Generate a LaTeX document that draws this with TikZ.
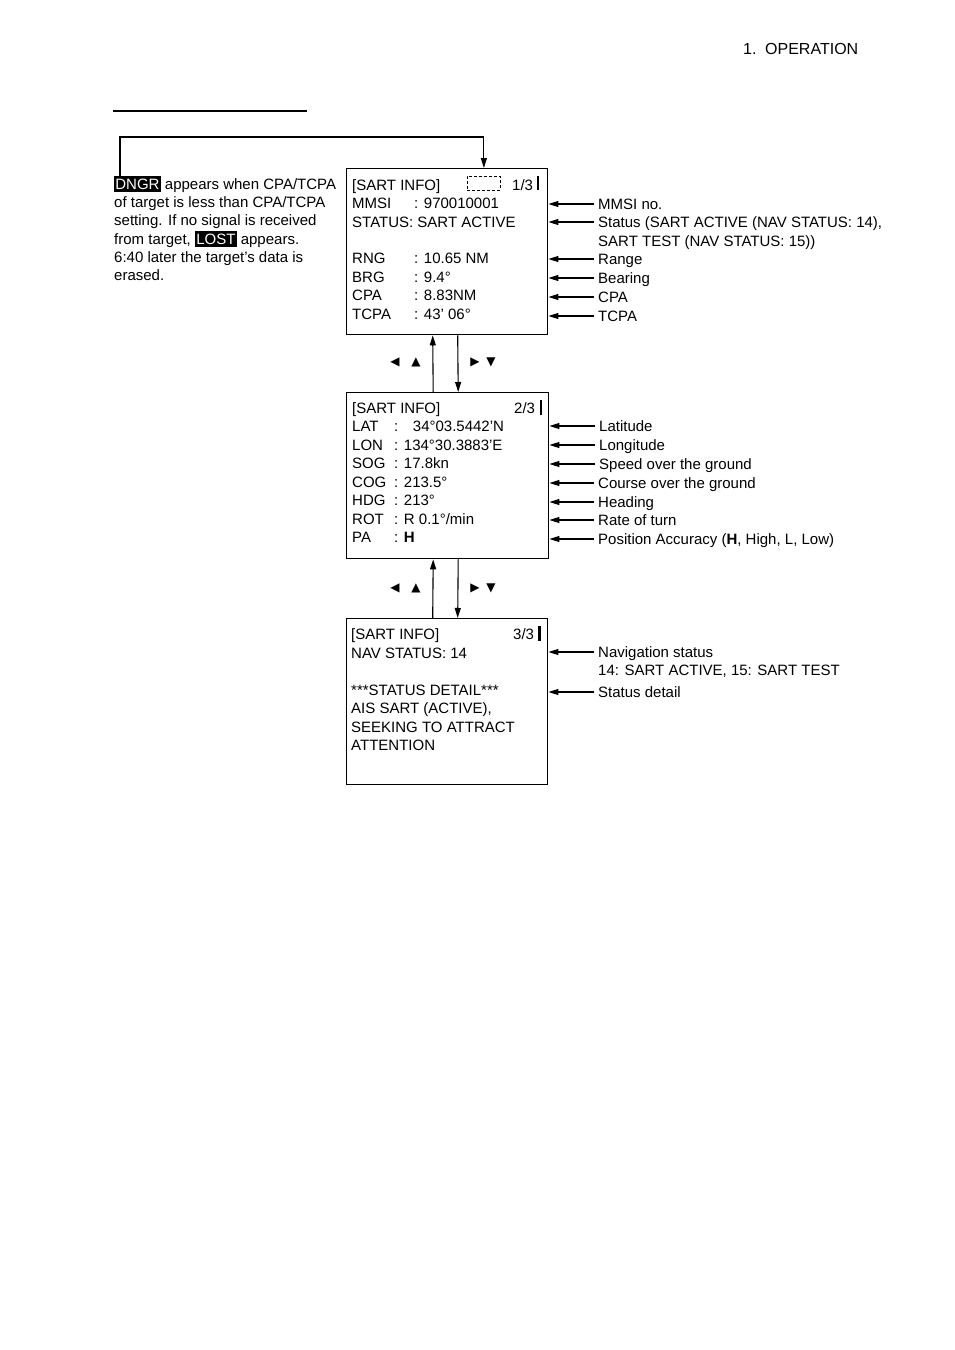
\documentclass[tikz,border=0pt]{standalone}
\usepackage{fontspec}
\setmainfont{Liberation Sans}
\newfontfamily\symfont{DejaVu Sans}
\usetikzlibrary{arrows.meta}
\newcommand\myfs{\fontsize{15pt}{18pt}\selectfont}
\newcommand\inv[1]{{\setlength\fboxsep{1.2pt}\colorbox{black}{\color{white}\rule[-1.5pt]{0pt}{13.6pt}#1}}}
\newcommand\lb[2]{\makebox[#1][l]{#2}}
\begin{document}
\begin{tikzpicture}[x=1pt,y=-1pt,
  scr/.style={draw, line width=1.4pt, anchor=north west, inner sep=0pt},
  tx/.style={anchor=west, inner sep=0pt, font=\myfs, text height=10.7pt, text depth=0pt},
  lab/.style={anchor=west, inner xsep=4pt, inner ysep=0pt, font=\myfs, text height=10.7pt, text depth=0pt},
  arr/.style={line width=1.1pt, -{Triangle[length=10pt,width=6pt]}},
  sym/.style={inner sep=0pt, font=\symfont\fontsize{12pt}{12pt}\selectfont},
  bar/.style={line width=2.4pt}]
\useasboundingbox (0,0) rectangle (954,1350);

% header
\node[tx, font=\fontsize{16pt}{18pt}\selectfont] (hdr1) at (743,49) {1.};
\node[tx, font=\fontsize{16pt}{18pt}\selectfont] (hdr2) at (765,49) {OPERATION};
\draw[line width=1.2pt] (113,111) -- (307,111);

% left note
\node[tx] (n1) at (114,184) {\inv{DNGR} appears when CPA/TCPA};
\node[tx] (n2) at (114,202) {of target is less than CPA/TCPA};
\node[tx] (n3) at (114,220) {setting. If no signal is received};
\node[tx] (n4) at (114,239) {from target, \inv{LOST} appears.};
\node[tx] (n5) at (114,257) {6:40 later the target's data is};
\node[tx] (n6) at (114,275) {erased.};

% box 1
\node[scr, minimum width=201pt, minimum height=166pt] (b1) at (346,168) {};
\node[draw, dashed, line width=0.8pt, dash pattern=on 3pt off 2pt, minimum width=33pt, minimum height=14pt, anchor=north west, inner sep=0pt] (dash) at (467,176) {};
\node[tx] (a0) at (352,185) {[SART INFO]};
\node[tx] (a0p) at (512,185) {1/3};
\draw[bar] (538,176) -- (538,190);
\node[tx] (a1) at (352,203) {\lb{62pt}{MMSI}: 970010001};
\node[tx] (a2) at (352,222) {STATUS: SART ACTIVE};
\node[tx] (a3) at (352,258) {\lb{62pt}{RNG}: 10.65 NM};
\node[tx] (a4) at (352,277) {\lb{62pt}{BRG}: 9.4°};
\node[tx] (a5) at (352,295) {\lb{62pt}{CPA}: 8.83NM};
\node[tx] (a6) at (352,314) {\lb{62pt}{TCPA}: 43' 06°};

\coordinate (cs) at (120,176);
\coordinate (ct) at (300,137);
\draw[arr] (cs) |- (ct) -| (dash.north |- b1.north);

\node[lab] (L1) at (594,204) {MMSI no.};
\node[lab] (L2) at (594,222) {Status (SART ACTIVE (NAV STATUS: 14),};
\node[lab] (L2b) at (594,241) {SART TEST (NAV STATUS: 15))};
\node[lab] (L3) at (594,259) {Range};
\node[lab] (L4) at (594,278) {Bearing};
\node[lab] (L5) at (594,297) {CPA};
\node[lab] (L6) at (594,316) {TCPA};
\foreach \n in {L1,L2,L3,L4,L5,L6} \draw[arr] (\n.west) -- (\n.west -| b1.east);

% box 2
\node[scr, minimum width=202pt, minimum height=166pt] (b2) at (346,392) {};
\node[tx] (c0) at (352,408) {[SART INFO]};
\node[tx] (c0p) at (514,408) {2/3};
\draw[line width=1.6pt] (541,400) -- (541,415);
\node[tx] (c1) at (352,426) {\lb{42pt}{LAT}:\hspace{9pt} 34°03.5442'N};
\node[tx] (c2) at (352,445) {\lb{42pt}{LON}: 134°30.3883'E};
\node[tx] (c3) at (352,463) {\lb{42pt}{SOG}: 17.8kn};
\node[tx] (c4) at (352,482) {\lb{42pt}{COG}: 213.5°};
\node[tx] (c5) at (352,500) {\lb{42pt}{HDG}: 213°};
\node[tx] (c6) at (352,519) {\lb{42pt}{ROT}: R 0.1°/min};
\node[tx] (c7) at (352,537) {\lb{42pt}{PA}: \textbf{H}};

\node[lab] (M1) at (595,426) {Latitude};
\node[lab] (M2) at (595,445) {Longitude};
\node[lab] (M3) at (595,464) {Speed over the ground};
\node[lab] (M4) at (594,483) {Course over the ground};
\node[lab] (M5) at (594,502) {Heading};
\node[lab] (M6) at (594,520) {Rate of turn};
\node[lab] (M7) at (594,539) {Position Accuracy (\textbf{H}, High, L, Low)};
\foreach \n in {M1,M2,M3,M4,M5,M6,M7} \draw[arr] (\n.west) -- (\n.west -| b2.east);

% box 3
\node[scr, minimum width=201pt, minimum height=166pt] (b3) at (346,618) {};
\node[tx] (d0) at (351,634) {[SART INFO]};
\node[tx] (d0p) at (513,634) {3/3};
\draw[bar] (539.5,626) -- (539.5,641);
\node[tx] (d1) at (351,653) {NAV STATUS: 14};
\node[tx] (d2) at (351,690) {***STATUS DETAIL***};
\node[tx] (d3) at (351,708) {AIS SART (ACTIVE),};
\node[tx] (d4) at (351,727) {SEEKING TO ATTRACT};
\node[tx] (d5) at (351,745) {ATTENTION};

\node[lab] (N1) at (594,652) {Navigation status};
\node[lab] (N1b) at (594,670) {14: SART ACTIVE, 15: SART TEST};
\node[lab] (N2) at (594,692) {Status detail};
\foreach \n in {N1,N2} \draw[arr] (\n.west) -- (\n.west -| b3.east);

% navigation arrows between boxes
\draw[arr] ([xshift=-14.5pt]b2.north) -- ([xshift=-14.5pt]b1.south);
\draw[arr] ([xshift=10.5pt]b1.south) -- ([xshift=10.5pt]b2.north);
\draw[arr] ([xshift=-14.5pt]b3.north) -- ([xshift=-14.5pt]b2.south);
\draw[arr] ([xshift=10.5pt]b2.south) -- ([xshift=10.5pt]b3.north);

\node[sym] (s1) at (395,362) {◀};
\node[sym] (s2) at (416,362) {▲};
\node[sym] (s3) at (475,362) {▶};
\node[sym] (s4) at (491,362) {▼};
\node[sym] (s5) at (395,588) {◀};
\node[sym] (s6) at (416,588) {▲};
\node[sym] (s7) at (475,588) {▶};
\node[sym] (s8) at (491,588) {▼};
\end{tikzpicture}
\end{document}
